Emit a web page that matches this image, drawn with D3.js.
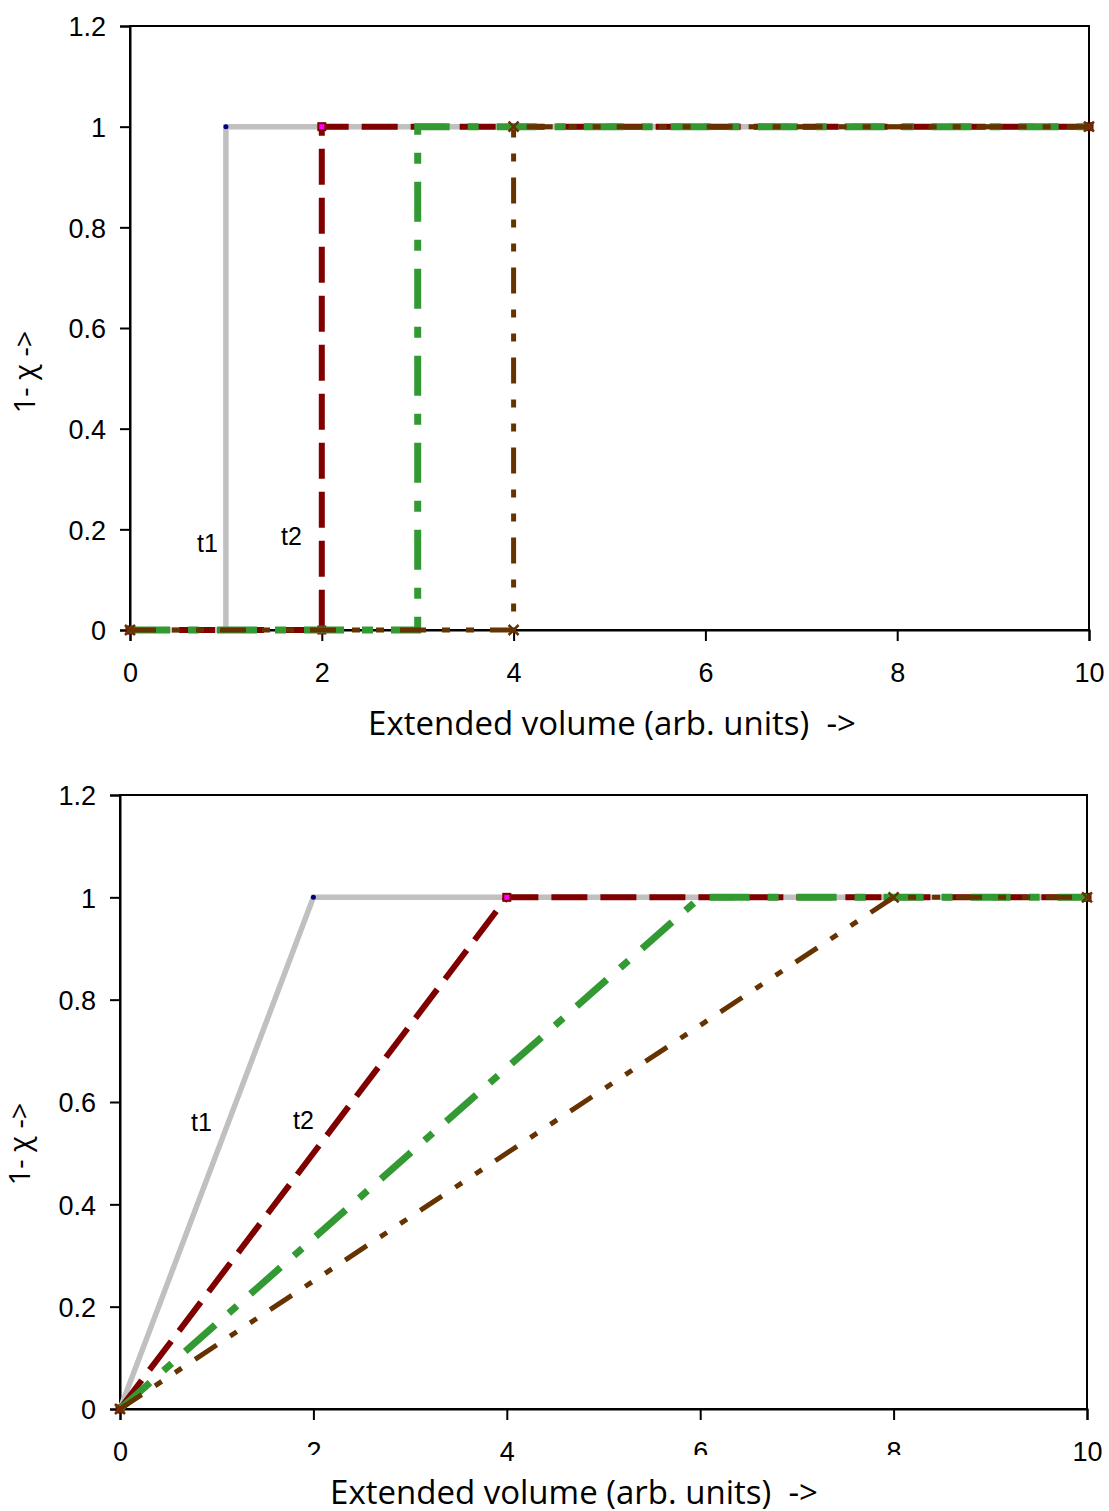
<!DOCTYPE html>
<html>
<head>
<meta charset="utf-8">
<script src="https://cdn.jsdelivr.net/npm/d3@7"></script>
<style>
  body { margin: 0; background: #fff; }
  svg { display: block; }
  .tick text { font-family: "Liberation Sans", Arial, sans-serif; }
</style>
</head>
<body>
<div id="chart"></div>
<script>
// tick values
const xTicks = [0, 2, 4, 6, 8, 10];
const yTicks = [0, 0.2, 0.4, 0.6, 0.8, 1, 1.2];
const seriesNames = ["t1", "t2", "t3", "t4"];

// top panel: step profiles
const topX = [[0, 1, 1, 10], [0, 2, 2, 10], [0, 3, 3, 10], [0, 4, 4, 10]];
const topY = [[0, 0, 1, 1], [0, 0, 1, 1], [0, 0, 1, 1], [0, 0, 1, 1]];

// bottom panel: linear ramps
const botX = [[0, 2, 10], [0, 4, 10], [0, 6, 10], [0, 8, 10]];
const botY = [[0, 1, 1], [0, 1, 1], [0, 1, 1], [0, 1, 1]];

const xTitle = "Extended volume (arb. units)  ->";
const yTitle = "1- \u03c7 ->";

// styles per series
const colors = ["#c0c0c0", "#800000", "#339933", "#663300"];
const widths = [5.5, 6, 7, 5];
const dashes = [null, "36,13", "40,18,11,18", "26,16,8,16,8,16"];

const svg = d3.select("#chart").append("svg")
  .attr("width", 1109)
  .attr("height", 1511);

const defs = svg.append("defs");
defs.append("clipPath").attr("id", "cutLabel")
  .append("rect").attr("x", -50).attr("y", 0).attr("width", 100).attr("height", 46);

function drawPanel(p) {
  const x = d3.scaleLinear().domain([0, 10]).range([p.left, p.right]);
  const y = d3.scaleLinear().domain([0, 1.2]).range([p.bottom, p.top]);
  const g = svg.append("g");

  // frame
  g.append("rect")
    .attr("x", p.left).attr("y", p.top)
    .attr("width", p.right - p.left).attr("height", p.bottom - p.top)
    .attr("fill", "none").attr("stroke", "#000").attr("stroke-width", 2);

  const xAxis = g.append("g")
    .attr("transform", "translate(0," + p.bottom + ")")
    .call(d3.axisBottom(x).tickValues(xTicks).tickFormat(d => d).tickSize(11).tickPadding(21));
  const yAxis = g.append("g")
    .attr("transform", "translate(" + p.left + ",0)")
    .call(d3.axisLeft(y).tickValues(yTicks).tickFormat(d => d).tickSize(10).tickPadding(14));

  [xAxis, yAxis].forEach(a => {
    a.select(".domain").attr("stroke", "#000").attr("stroke-width", 2);
    a.selectAll(".tick line").attr("stroke", "#000").attr("stroke-width", 2);
    a.selectAll(".tick text").attr("fill", "#000").style("font-size", "27px");
  });
  yAxis.selectAll(".tick text").attr("dy", "0.36em");
  xAxis.selectAll(".tick text").attr("dy", "0.75em");
  if (p.cutTicks) {
    xAxis.selectAll(".tick").filter(d => p.cutTicks.includes(d))
      .attr("clip-path", "url(#cutLabel)");
  }

  const line = d3.line().x(d => x(d[0])).y(d => y(d[1]));

  p.xs.forEach((xs, i) => {
    const pts = xs.map((v, j) => [v, p.ys[i][j]]);
    g.append("path")
      .datum(pts)
      .attr("d", line)
      .attr("fill", "none")
      .attr("stroke", colors[i])
      .attr("stroke-width", widths[i])
      .attr("stroke-dasharray", dashes[i]);

    const mk = g.append("g");
    pts.forEach(d => {
      const cx = x(d[0]), cy = y(d[1]);
      if (i === 0) {
        mk.append("circle").attr("cx", cx).attr("cy", cy).attr("r", 2.5).attr("fill", "#000080");
      } else if (i === 1) {
        mk.append("rect").attr("x", cx - 3.5).attr("y", cy - 3.5).attr("width", 7).attr("height", 7)
          .attr("fill", "#ff00ff").attr("stroke", "#800000").attr("stroke-width", 2);
      } else if (i === 3) {
        mk.append("path")
          .attr("d", "M" + (cx - 5) + "," + (cy - 5) + "L" + (cx + 5) + "," + (cy + 5) +
                     "M" + (cx + 5) + "," + (cy - 5) + "L" + (cx - 5) + "," + (cy + 5))
          .attr("stroke", "#663300").attr("stroke-width", 2.5).attr("fill", "none");
      }
    });
  });

  // series labels
  p.labels.forEach(l => {
    g.append("text")
      .attr("x", l.x).attr("y", l.y)
      .style("font-family", "Liberation Sans, Arial, sans-serif")
      .style("font-size", "25px")
      .text(seriesNames[l.i]);
  });

  // axis titles
  g.append("text")
    .attr("x", p.xTitleX).attr("y", p.xTitleY)
    .attr("text-anchor", "middle")
    .style("font-family", "Open Sans, sans-serif")
    .style("font-size", "33px")
    .style("white-space", "pre")
    .text(xTitle);
  g.append("text")
    .attr("transform", "translate(" + p.yTitleX + "," + p.yTitleY + ") rotate(-90)")
    .attr("text-anchor", "middle")
    .style("font-family", "Open Sans, sans-serif")
    .style("font-size", "29px")
    .text(yTitle);
}

drawPanel({
  left: 130, right: 1089, top: 26, bottom: 630,
  xs: topX, ys: topY,
  labels: [{ i: 0, x: 197, y: 552 }, { i: 1, x: 281, y: 545 }],
  xTitleX: 612, xTitleY: 735,
  yTitleX: 35, yTitleY: 372
});

drawPanel({
  left: 120, right: 1087, top: 795, bottom: 1409,
  xs: botX, ys: botY,
  labels: [{ i: 0, x: 191, y: 1131 }, { i: 1, x: 293, y: 1129 }],
  xTitleX: 574, xTitleY: 1504,
  yTitleX: 30, yTitleY: 1144,
  cutTicks: [2, 6, 8]
});
</script>
</body>
</html>
